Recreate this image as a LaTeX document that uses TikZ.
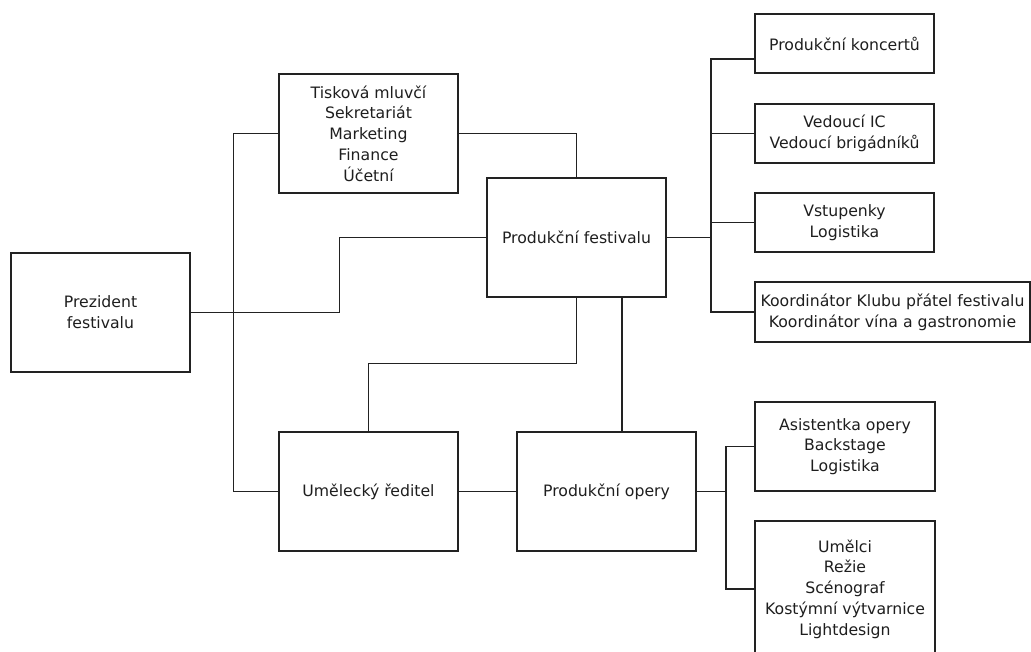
\documentclass[tikz,border=0pt]{standalone}
\usepackage{fontspec}
\setmainfont{DejaVu Sans}
\begin{document}
\begin{tikzpicture}[x=1pt,y=-1pt,
  font=\fontsize{15.7}{20.8}\selectfont,
  box/.style={draw=linec, line width=1.4pt, rectangle, inner sep=0pt,
    align=center, text=textc, minimum width=179pt, minimum height=119pt},
  smallbox/.style={box, minimum height=59pt},
  link/.style={draw=linec, line width=1.4pt}]
\definecolor{linec}{HTML}{222222}
\definecolor{textc}{HTML}{1E1E1E}
\useasboundingbox (0,0) rectangle (1031,652);
\clip (0,0) rectangle (1031,652);

% main hierarchy
\node[box] (pres)  at (100.5,312.5) {Prezident\\festivalu};
\node[box] (tisk)  at (368.5,133.5) {Tisková mluvčí\\Sekretariát\\Marketing\\Finance\\Účetní};
\node[box] (pfest) at (576.5,237.5) {Produkční festivalu};
\node[box] (umel)  at (368.5,491.5) {Umělecký ředitel};
\node[box] (opery) at (606.5,491.5) {Produkční opery};

% festival production staff
\node[smallbox] (konc)  at (844.5,43.5)  {Produkční koncertů};
\node[smallbox] (ved)   at (844.5,133.5) {Vedoucí IC\\Vedoucí brigádníků};
\node[smallbox] (vstup) at (844.5,222.5) {Vstupenky\\Logistika};
\node[smallbox, minimum width=275pt, minimum height=60pt] (koord) at (892.5,312)
  {Koordinátor Klubu přátel festivalu\\Koordinátor vína a gastronomie};

% opera production staff
\node[box, minimum width=180pt, minimum height=89pt] (asist) at (845,446.5)
  {Asistentka opery\\Backstage\\Logistika};
\node[box, minimum width=180pt, minimum height=136pt] (umelci) at (845,589)
  {Umělci\\Režie\\Scénograf\\Kostýmní výtvarnice\\Lightdesign};

% connectors
\path[link] (pres.east) -- ++(149,0) |- (pfest.west);
\path[link] (tisk.west) -- ++(-45,0) |- (umel.west);
\path[link] (tisk.east) -| (pfest.north);
\path[link] (umel.north) -- ++(0,-68) -| (pfest.south);
\path[link] ([xshift=45.5pt]pfest.south) -- ([xshift=45.5pt]pfest.south |- opery.north);
\path[link] (umel.east) -- (opery.west);

\coordinate (fbus) at (711,237.5);
\path[link] (pfest.east) -- (fbus);
\path[link] ([yshift=-15.5pt]konc.west) -| (fbus) |- (koord.west);
\path[link] (ved.west) -- (ved.west -| fbus);
\path[link] (vstup.west) -- (vstup.west -| fbus);

\coordinate (obus) at (726,491.5);
\path[link] (opery.east) -- (obus);
\path[link] (asist.west) -| (obus) |- (umelci.west);
\end{tikzpicture}
\end{document}
